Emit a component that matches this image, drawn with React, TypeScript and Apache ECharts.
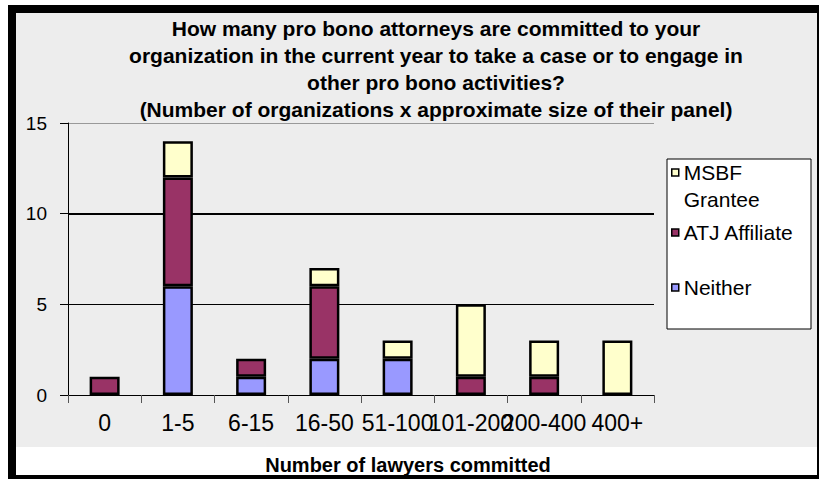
import React, { useEffect, useRef } from "react";
import * as echarts from "echarts";

const categories = ["0", "1-5", "6-15", "16-50", "51-100", "101-200", "200-400", "400+"];
const neither = [0, 6, 1, 2, 2, 0, 0, 0];
const atjAffiliate = [1, 6, 1, 4, 0, 1, 1, 0];
const msbfGrantee = [0, 2, 0, 1, 1, 4, 2, 3];
const seriesNames = ["Neither", "ATJ Affiliate", "MSBF Grantee"];
const seriesColors = ["#9999ff", "#993366", "#ffffcc"];
const titleLines = [
  "How many pro bono attorneys are committed to your",
  "organization in the current year to take a case or to engage in",
  "other pro bono activities?",
  "(Number of organizations x approximate size of their panel)",
];
const xAxisTitle = "Number of lawyers committed";

const FONT = "'Liberation Sans', Arial, sans-serif";

const nz = (arr: number[]) => arr.map((v) => (v === 0 ? "-" : v));

export default function App() {
  const ref = useRef<HTMLDivElement>(null);
  useEffect(() => {
    if (!ref.current) return;
    const chart = echarts.init(ref.current, null, { renderer: "svg" });
    const values = [neither, atjAffiliate, msbfGrantee];
    const series: any[] = values.map((vals, i) => ({
      name: seriesNames[i],
      type: "bar",
      stack: "total",
      barWidth: 30,
      data: nz(vals),
      itemStyle: { color: seriesColors[i], borderColor: "#000", borderWidth: 2.5 },
    }));
    const legendBase = {
      orient: "vertical",
      left: 671,
      padding: 0,
      itemWidth: 7,
      itemHeight: 7,
      icon: "rect",
      selectedMode: false,
      itemStyle: { borderColor: "#000", borderWidth: 1.5 },
      textStyle: { fontFamily: FONT, fontSize: 21, color: "#000", lineHeight: 27 },
    };
    chart.setOption({
      animation: false,
      backgroundColor: "#ffffff",
      graphic: [
        { type: "rect", z: -10, shape: { x: 8, y: 5, width: 811, height: 474 }, style: { fill: "#000" } },
        { type: "rect", z: -9, shape: { x: 16, y: 13, width: 801, height: 434 }, style: { fill: "#ededed" } },
        { type: "rect", z: -9, shape: { x: 16, y: 447, width: 801, height: 28 }, style: { fill: "#ffffff" } },
        {
          type: "rect",
          z: 1,
          shape: { x: 667, y: 159, width: 144, height: 170 },
          style: { fill: "#ffffff", stroke: "#000", lineWidth: 1 },
        },
        {
          type: "text",
          z: 5,
          x: 436,
          y: 15,
          style: {
            text: titleLines.join("\n"),
            align: "center",
            verticalAlign: "top",
            fontFamily: FONT,
            fontWeight: "bold",
            fontSize: 21,
            lineHeight: 27,
            fill: "#000",
          },
        },
        {
          type: "text",
          z: 5,
          x: 408,
          y: 465,
          style: {
            text: xAxisTitle,
            align: "center",
            verticalAlign: "middle",
            fontFamily: FONT,
            fontWeight: "bold",
            fontSize: 20,
            fill: "#000",
          },
        },
      ],
      legend: [
        {
          ...legendBase,
          top: 132,
          data: ["MSBF Grantee"],
          formatter: () => " \nMSBF\nGrantee",
        },
        { ...legendBase, top: 219, data: ["ATJ Affiliate"] },
        { ...legendBase, top: 274, data: ["Neither"] },
      ],
      grid: { left: 68, right: 165, top: 123, bottom: 84, containLabel: false, outerBoundsMode: "none" },
      xAxis: {
        type: "category",
        data: categories,
        axisLine: { lineStyle: { color: "#000", width: 1 } },
        axisTick: { show: true, length: 8, lineStyle: { color: "#555" } },
        axisLabel: { interval: 0, margin: 16, fontFamily: FONT, fontSize: 23, color: "#000" },
      },
      yAxis: [
        {
          type: "value",
          min: 0,
          max: 15,
          interval: 5,
          axisLine: { show: true, lineStyle: { color: "#000", width: 1 } },
          axisTick: { show: true, length: 8, lineStyle: { color: "#000" } },
          axisLabel: { margin: 21, fontFamily: FONT, fontSize: 19, color: "#000" },
          splitLine: { show: true, lineStyle: { color: ["#000", "#000", "#000", "#999"], width: 1 } },
        },
        {
          type: "value",
          min: 0,
          max: 15,
          interval: 10,
          axisLine: { show: false },
          axisTick: { show: false },
          axisLabel: { show: false },
          splitLine: {
            show: true,
            lineStyle: { color: ["rgba(0,0,0,0)", "#000", "rgba(0,0,0,0)"], width: 2 },
          },
        },
      ],
      series,
    });
    return () => chart.dispose();
  }, []);
  return (
    <div
      ref={ref}
      style={{ position: "fixed", left: 0, top: 0, width: 819, height: 479 }}
    />
  );
}
